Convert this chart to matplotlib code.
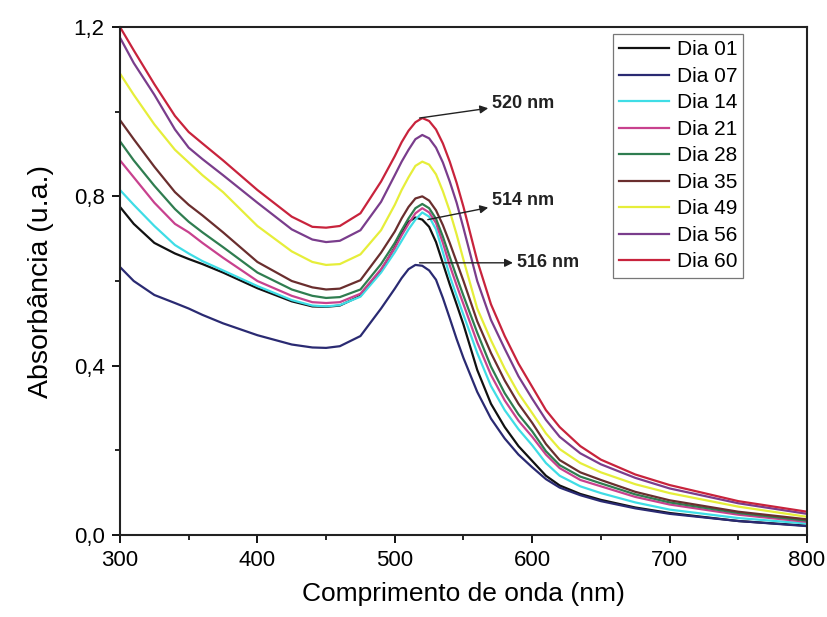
import matplotlib
matplotlib.use("Agg")
import matplotlib.pyplot as plt
from matplotlib.ticker import MultipleLocator, FuncFormatter

plt.rcParams['font.family'] = ['Liberation Sans', 'DejaVu Sans']

# UV-Vis spectra of the colloid over storage time
wavelength = [300, 310, 325, 340, 350, 360, 375, 400, 425, 440, 450, 460, 475,
              490, 500, 505, 510, 515, 520, 525, 530, 535, 540, 545, 550, 560,
              570, 580, 590, 600, 610, 620, 635, 650, 675, 700, 750, 800]

dia_01 = [0.775, 0.735, 0.690, 0.665, 0.652, 0.640, 0.620, 0.583, 0.552, 0.540,
          0.539, 0.542, 0.565, 0.625, 0.680, 0.712, 0.740, 0.750, 0.745, 0.728,
          0.692, 0.642, 0.592, 0.545, 0.497, 0.390, 0.310, 0.255, 0.210, 0.175,
          0.140, 0.117, 0.097, 0.083, 0.065, 0.052, 0.033, 0.022]
dia_07 = [0.633, 0.600, 0.567, 0.548, 0.535, 0.520, 0.500, 0.472, 0.450, 0.443,
          0.442, 0.446, 0.470, 0.535, 0.582, 0.607, 0.628, 0.638, 0.636, 0.625,
          0.603, 0.560, 0.512, 0.463, 0.418, 0.338, 0.275, 0.228, 0.190, 0.160,
          0.132, 0.112, 0.094, 0.080, 0.063, 0.050, 0.033, 0.021]
dia_14 = [0.815, 0.780, 0.730, 0.685, 0.665, 0.647, 0.625, 0.588, 0.555, 0.542,
          0.540, 0.543, 0.563, 0.620, 0.668, 0.695, 0.722, 0.745, 0.762, 0.752,
          0.722, 0.668, 0.612, 0.565, 0.520, 0.430, 0.352, 0.295, 0.250, 0.212,
          0.170, 0.140, 0.115, 0.099, 0.077, 0.060, 0.040, 0.027]
dia_21 = [0.885, 0.845, 0.785, 0.735, 0.715, 0.690, 0.655, 0.600, 0.565, 0.550,
          0.548, 0.550, 0.570, 0.628, 0.678, 0.708, 0.735, 0.760, 0.772, 0.762,
          0.737, 0.690, 0.637, 0.590, 0.545, 0.455, 0.378, 0.318, 0.270, 0.232,
          0.190, 0.158, 0.130, 0.115, 0.090, 0.072, 0.048, 0.031]
dia_28 = [0.930, 0.885, 0.825, 0.770, 0.740, 0.715, 0.680, 0.620, 0.580, 0.565,
          0.560, 0.562, 0.580, 0.640, 0.690, 0.720, 0.748, 0.772, 0.782, 0.772,
          0.747, 0.705, 0.657, 0.610, 0.565, 0.478, 0.398, 0.335, 0.285, 0.245,
          0.198, 0.165, 0.138, 0.122, 0.096, 0.077, 0.052, 0.034]
dia_35 = [0.980, 0.935, 0.870, 0.810, 0.780, 0.755, 0.715, 0.645, 0.600, 0.585,
          0.580, 0.582, 0.602, 0.667, 0.717, 0.748, 0.775, 0.795, 0.800, 0.790,
          0.767, 0.732, 0.690, 0.645, 0.600, 0.505, 0.430, 0.365, 0.310, 0.265,
          0.215, 0.177, 0.148, 0.130, 0.102, 0.082, 0.055, 0.037]
dia_49 = [1.090, 1.040, 0.970, 0.910, 0.880, 0.850, 0.810, 0.730, 0.670, 0.645,
          0.638, 0.640, 0.663, 0.720, 0.780, 0.815, 0.845, 0.872, 0.882, 0.875,
          0.852, 0.812, 0.765, 0.710, 0.650, 0.535, 0.460, 0.393, 0.335, 0.288,
          0.240, 0.203, 0.170, 0.148, 0.120, 0.099, 0.067, 0.043]
dia_56 = [1.175, 1.115, 1.040, 0.958, 0.915, 0.888, 0.850, 0.785, 0.722, 0.698,
          0.692, 0.695, 0.720, 0.787, 0.850, 0.882, 0.910, 0.935, 0.945, 0.937,
          0.915, 0.880, 0.835, 0.785, 0.725, 0.600, 0.508, 0.440, 0.375, 0.322,
          0.272, 0.232, 0.193, 0.167, 0.135, 0.110, 0.075, 0.050]
dia_60 = [1.200, 1.145, 1.065, 0.990, 0.952, 0.925, 0.885, 0.815, 0.752, 0.728,
          0.726, 0.730, 0.760, 0.835, 0.895, 0.928, 0.955, 0.975, 0.985, 0.978,
          0.958, 0.925, 0.882, 0.832, 0.775, 0.648, 0.545, 0.470, 0.405, 0.350,
          0.295, 0.255, 0.210, 0.178, 0.143, 0.118, 0.080, 0.055]

labels = ['Dia 01', 'Dia 07', 'Dia 14', 'Dia 21', 'Dia 28', 'Dia 35',
          'Dia 49', 'Dia 56', 'Dia 60']
series = [dia_01, dia_07, dia_14, dia_21, dia_28, dia_35, dia_49, dia_56, dia_60]
colors = ['#111111', '#2a2a72', '#3fdde6', '#c8418e', '#2f7d50', '#6a2e2e',
          '#e6ee3a', '#7a3d8c', '#c8233c']

# peak annotations: text, arrow tail on the curve, text position
peak_labels = ['520 nm', '514 nm', '516 nm']
peak_xy = [(518, 0.985), (524, 0.745), (518, 0.643)]
text_xy = [(571, 1.02), (571, 0.79), (589, 0.643)]

fig = plt.figure(figsize=(8.27, 6.17), dpi=100)
ax = fig.add_axes([0.1451, 0.1329, 0.8307, 0.8233])

for y, lab, c in zip(series, labels, colors):
    ax.plot(wavelength, y, color=c, lw=1.6, label=lab)

for t, p, q in zip(peak_labels, peak_xy, text_xy):
    ax.annotate(t, xy=p, xytext=q, fontsize=13, fontweight='bold',
                va='center', ha='left', color='#222222',
                arrowprops=dict(arrowstyle='<|-', color='#222222', lw=1.0,
                                shrinkA=1, shrinkB=0, mutation_scale=12))

ax.set_xlim(300, 800)
ax.set_ylim(0, 1.2)
ax.xaxis.set_major_locator(MultipleLocator(100))
ax.xaxis.set_minor_locator(MultipleLocator(50))
ax.yaxis.set_major_locator(MultipleLocator(0.4))
ax.yaxis.set_minor_locator(MultipleLocator(0.2))
ax.yaxis.set_major_formatter(FuncFormatter(lambda v, _: f"{v:.1f}".replace('.', ',')))

ax.tick_params(which='major', direction='out', length=6, width=1.3,
               labelsize=16, pad=5, top=False, right=False)
ax.tick_params(which='minor', direction='out', length=3.5, width=1.2,
               top=False, right=False)
for s in ax.spines.values():
    s.set_linewidth(1.5)
    s.set_color('#222222')

ax.set_xlabel('Comprimento de onda (nm)', fontsize=19, labelpad=8)
ax.set_ylabel('Absorbância (u.a.)', fontsize=20.5, labelpad=14)

leg = ax.legend(loc='upper left', bbox_to_anchor=(0.7176, 0.986),
                borderaxespad=0, fontsize=15, frameon=True, fancybox=False,
                handlelength=2.4, handletextpad=0.35, labelspacing=0.36,
                borderpad=0.3)
leg.get_frame().set_edgecolor('#555555')
leg.get_frame().set_linewidth(0.9)

fig.savefig('out.png', dpi=100)
